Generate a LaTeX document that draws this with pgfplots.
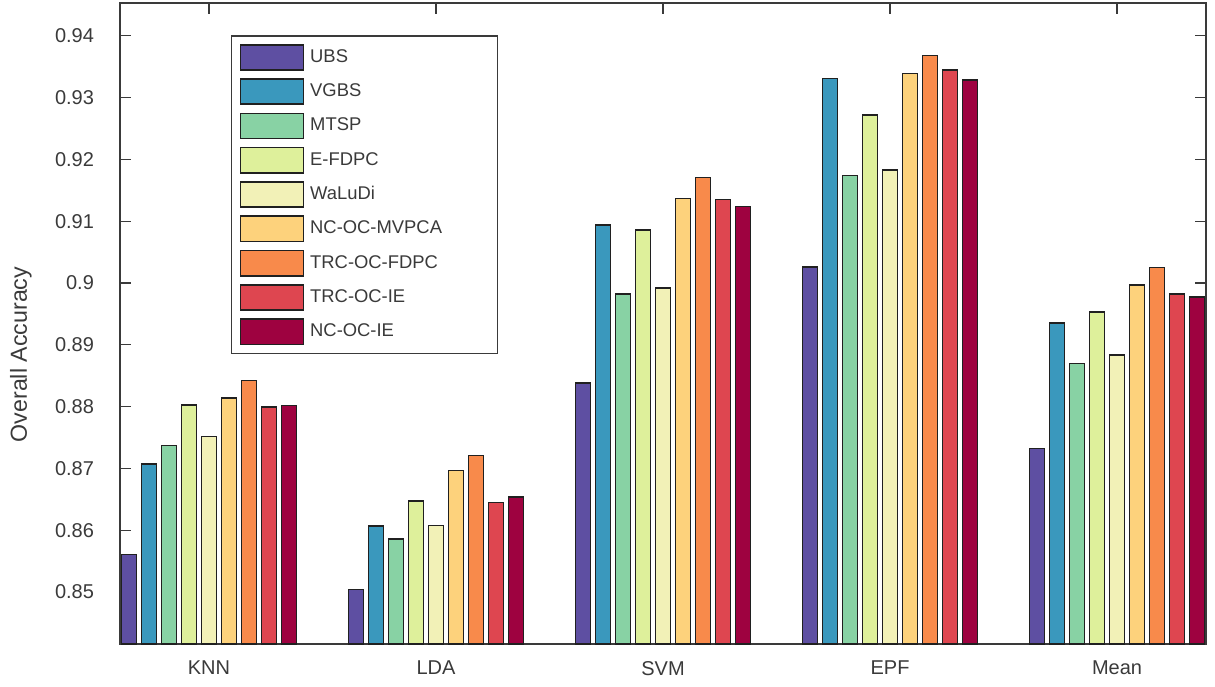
\documentclass[border=0pt]{standalone}
\usepackage{fontspec}
\setmainfont{Liberation Sans}
\usepackage{pgfplots}
\usepackage{pgfplotstable}
\pgfplotsset{compat=1.18}

% Spectral-like palette, one colour per method
\definecolor{cUBS}{HTML}{5E4FA2}
\definecolor{cVGBS}{HTML}{3A98BD}
\definecolor{cMTSP}{HTML}{88D2A4}
\definecolor{cEFDPC}{HTML}{DEF09B}
\definecolor{cWaLuDi}{HTML}{F2F1B7}
\definecolor{cMVPCA}{HTML}{FDD27C}
\definecolor{cFDPC}{HTML}{F88A4B}
\definecolor{cTRCIE}{HTML}{DE4650}
\definecolor{cNCIE}{HTML}{9E0240}
\definecolor{axisgray}{HTML}{3A3A3A}
\definecolor{edgegray}{HTML}{202020}

% Overall accuracy per classifier (rows) and band-selection method (columns)
\pgfplotstableread{
idx UBS    VGBS   MTSP   EFDPC  WaLuDi MVPCA  FDPC   TRCIE  NCIE
0   0.8561 0.8707 0.8737 0.8803 0.8752 0.8814 0.8842 0.8799 0.8802
1   0.8504 0.8607 0.8586 0.8647 0.8608 0.8697 0.8721 0.8645 0.8654
2   0.8838 0.9094 0.8982 0.9086 0.8992 0.9137 0.9171 0.9135 0.9124
3   0.9026 0.9331 0.9174 0.9272 0.9183 0.9339 0.9368 0.9345 0.9328
4   0.8732 0.8935 0.8870 0.8953 0.8884 0.8997 0.9025 0.8982 0.8977
}\accdata

\pgfplotsset{
  mybar/.style={
    ybar, bar width=0.0648, draw=edgegray, line width=0.8pt, fill=#1,
    legend image code/.code={\draw[fill=#1, draw=edgegray, line width=0.8pt] (0pt,-6.3pt) rectangle (31.5pt,6.3pt);}
  }
}

\begin{document}
\begin{tikzpicture}
\begin{axis}[
  name=ax,
  scale only axis,
  width=543pt, height=320.5pt,
  xmin=-0.392, xmax=4.392,
  ymin=0.8416, ymax=0.9453,
  xtick={0,1,2,3,4},
  xticklabels={KNN,LDA,SVM,EPF,Mean},
  ytick={0.85,0.86,0.87,0.88,0.89,0.9,0.91,0.92,0.93,0.94},
  yticklabel style={/pgf/number format/fixed, /pgf/number format/precision=2, xshift=-9.5pt},
  /pgf/number format/assume math mode=true,
  xticklabel style={yshift=-5pt},
  tick label style={font=\fontsize{10}{12}\selectfont, text=axisgray},
  tick align=inside,
  major tick length=5.5pt,
  tick style={axisgray, line width=0.6pt},
  axis line style={axisgray, line width=0.7pt},
  ylabel={Overall Accuracy},
  ylabel style={at={(rel axis cs:-0.0912,0.4516)}, anchor=center, font=\fontsize{11.6}{14}\selectfont, text=axisgray},
  legend cell align=left,
  legend style={
    at={(rel axis cs:0.1022,0.9495)}, anchor=north west,
    draw=axisgray, line width=0.6pt,
    inner sep=4pt, row sep=3.75pt, column sep=3pt,
    font=\fontsize{9.2}{11}\selectfont, text=axisgray,
    nodes={inner sep=0pt, text width=89.5pt, align=left},
  },
]
\addplot[mybar=cUBS,    bar shift=-0.3524] table[x=idx, y=UBS]   {\accdata};
\addlegendentry{UBS}
\addplot[mybar=cVGBS,   bar shift=-0.2643] table[x=idx, y=VGBS]  {\accdata};
\addlegendentry{VGBS}
\addplot[mybar=cMTSP,   bar shift=-0.1762] table[x=idx, y=MTSP]  {\accdata};
\addlegendentry{MTSP}
\addplot[mybar=cEFDPC,  bar shift=-0.0881] table[x=idx, y=EFDPC] {\accdata};
\addlegendentry{E-FDPC}
\addplot[mybar=cWaLuDi, bar shift=0]       table[x=idx, y=WaLuDi]{\accdata};
\addlegendentry{WaLuDi}
\addplot[mybar=cMVPCA,  bar shift=0.0881]  table[x=idx, y=MVPCA] {\accdata};
\addlegendentry{NC-OC-MVPCA}
\addplot[mybar=cFDPC,   bar shift=0.1762]  table[x=idx, y=FDPC]  {\accdata};
\addlegendentry{TRC-OC-FDPC}
\addplot[mybar=cTRCIE,  bar shift=0.2643]  table[x=idx, y=TRCIE] {\accdata};
\addlegendentry{TRC-OC-IE}
\addplot[mybar=cNCIE,   bar shift=0.3524]  table[x=idx, y=NCIE]  {\accdata};
\addlegendentry{NC-OC-IE}
\end{axis}
\pgfresetboundingbox
\path[use as bounding box] ([xshift=-60pt,yshift=-21pt]ax.south west) rectangle ([xshift=4.5pt,yshift=1.5pt]ax.north east);
\end{tikzpicture}
\end{document}
